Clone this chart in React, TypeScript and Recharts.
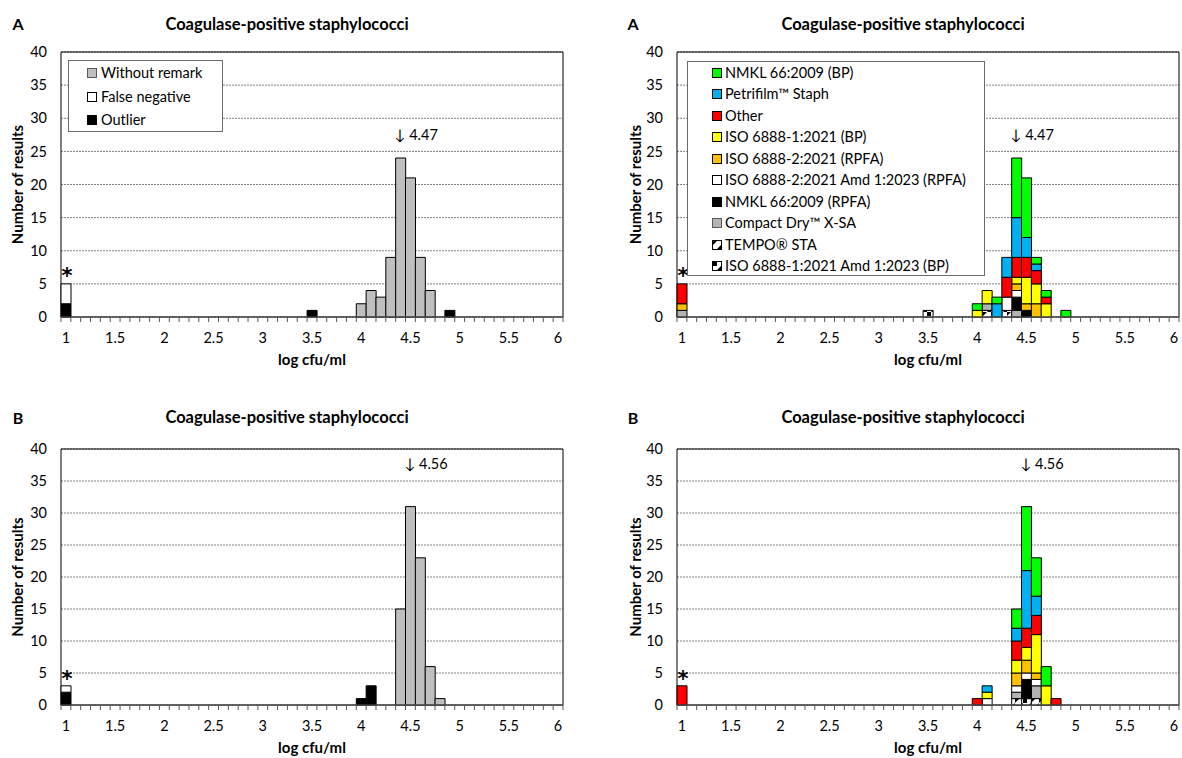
import React from "react";
import {
  BarChart,
  Bar,
  XAxis,
  YAxis,
  CartesianGrid,
  ReferenceArea,
  ReferenceDot,
  Legend,
} from "recharts";

const FONT = "Lato, 'Noto Sans', 'DejaVu Sans', sans-serif";

// ---------- categories & ticks ----------
const bins = [
  "1.0", "1.1", "1.2", "1.3", "1.4", "1.5", "1.6", "1.7", "1.8", "1.9",
  "2.0", "2.1", "2.2", "2.3", "2.4", "2.5", "2.6", "2.7", "2.8", "2.9",
  "3.0", "3.1", "3.2", "3.3", "3.4", "3.5", "3.6", "3.7", "3.8", "3.9",
  "4.0", "4.1", "4.2", "4.3", "4.4", "4.5", "4.6", "4.7", "4.8", "4.9",
  "5.0", "5.1", "5.2", "5.3", "5.4", "5.5", "5.6", "5.7", "5.8", "5.9",
  "6.0",
];
const xTickLabels = ["1", "1.5", "2", "2.5", "3", "3.5", "4", "4.5", "5", "5.5", "6"];
const yTicks = [0, 5, 10, 15, 20, 25, 30, 35, 40];

// ---------- Panel A : by remark ----------
const aOutlier: Record<string, number> = { "1.0": 2, "3.5": 1, "4.9": 1 };
const aFalseNegative: Record<string, number> = { "1.0": 3 };
const aWithoutRemark: Record<string, number> = {
  "4.0": 2, "4.1": 4, "4.2": 3, "4.3": 9, "4.4": 24, "4.5": 21, "4.6": 9, "4.7": 4,
};

// ---------- Panel B : by remark ----------
const bOutlier: Record<string, number> = { "1.0": 2, "4.0": 1, "4.1": 3 };
const bFalseNegative: Record<string, number> = { "1.0": 1 };
const bWithoutRemark: Record<string, number> = {
  "4.4": 15, "4.5": 31, "4.6": 23, "4.7": 6, "4.8": 1,
};

// ---------- Panel A : by method ----------
const aIso1AmdBp: Record<string, number> = { "3.5": 1 };
const aTempo: Record<string, number> = { "4.1": 1, "4.3": 1 };
const aCompactDry: Record<string, number> = { "1.0": 1, "4.1": 1, "4.4": 1 };
const aNmklRpfa: Record<string, number> = { "4.4": 2, "4.5": 1 };
const aIso2AmdRpfa: Record<string, number> = { "4.3": 2, "4.4": 1 };
const aIso2Rpfa: Record<string, number> = { "1.0": 1, "4.4": 1, "4.5": 1, "4.6": 2 };
const aIso1Bp: Record<string, number> = { "4.0": 1, "4.1": 2, "4.4": 1, "4.5": 4, "4.6": 3, "4.7": 2 };
const aOther: Record<string, number> = { "1.0": 3, "4.3": 3, "4.4": 3, "4.5": 3, "4.6": 2, "4.7": 1 };
const aPetrifilm: Record<string, number> = { "4.2": 2, "4.3": 3, "4.4": 6, "4.5": 3, "4.6": 1 };
const aNmklBp: Record<string, number> = { "4.0": 1, "4.2": 1, "4.4": 9, "4.5": 9, "4.6": 1, "4.7": 1, "4.9": 1 };

// ---------- Panel B : by method ----------
const bIso1AmdBp: Record<string, number> = { "4.5": 1 };
const bTempo: Record<string, number> = { "4.4": 1, "4.6": 1 };
const bCompactDry: Record<string, number> = { "4.4": 1, "4.6": 2 };
const bNmklRpfa: Record<string, number> = { "4.5": 3 };
const bIso2AmdRpfa: Record<string, number> = { "4.1": 1, "4.4": 1, "4.5": 1, "4.6": 1 };
const bIso2Rpfa: Record<string, number> = { "4.4": 2, "4.5": 2, "4.6": 1 };
const bIso1Bp: Record<string, number> = { "4.1": 1, "4.4": 2, "4.5": 2, "4.6": 6, "4.7": 3 };
const bOther: Record<string, number> = { "1.0": 3, "4.0": 1, "4.4": 3, "4.5": 3, "4.6": 3, "4.8": 1 };
const bPetrifilm: Record<string, number> = { "4.1": 1, "4.4": 2, "4.5": 9, "4.6": 3 };
const bNmklBp: Record<string, number> = { "4.4": 3, "4.5": 10, "4.6": 6, "4.7": 3 };

// ---------- series names (bottom of stack first) ----------
const remarkKeys = ["outlier", "falseNegative", "withoutRemark"];
const remarkNames = ["Outlier", "False negative", "Without remark"];
const methodKeys = [
  "iso1AmdBp", "tempo", "compactDry", "nmklRpfa", "iso2AmdRpfa",
  "iso2Rpfa", "iso1Bp", "other", "petrifilm", "nmklBp",
];
const methodNames = [
  "ISO 6888-1:2021 Amd 1:2023 (BP)",
  "TEMPO® STA",
  "Compact Dry™ X-SA",
  "NMKL 66:2009 (RPFA)",
  "ISO 6888-2:2021 Amd 1:2023 (RPFA)",
  "ISO 6888-2:2021 (RPFA)",
  "ISO 6888-1:2021 (BP)",
  "Other",
  "Petrifilm™ Staph",
  "NMKL 66:2009 (BP)",
];

const titleText = "Coagulase-positive staphylococci";
const yTitle = "Number of results";
const xTitle = "log cfu/ml";

// ---------- styles ----------
const remarkFills: Record<string, string> = {
  outlier: "#000000",
  falseNegative: "#ffffff",
  withoutRemark: "#bfbfbf",
};
const methodFills: Record<string, string> = {
  iso1AmdBp: "PAT_ISOAMD",
  tempo: "PAT_TEMPO",
  compactDry: "#b3b3b3",
  nmklRpfa: "#000000",
  iso2AmdRpfa: "#ffffff",
  iso2Rpfa: "#ffc000",
  iso1Bp: "#ffff00",
  other: "#ff0000",
  petrifilm: "#00b0f0",
  nmklBp: "#00ff00",
};

function buildRows(keys: string[], maps: Record<string, number>[]) {
  return bins.map((bin) => {
    const row: Record<string, any> = { bin };
    keys.forEach((k, i) => {
      row[k] = maps[i][bin] ?? 0;
    });
    return row;
  });
}

const rowsALeft = buildRows(remarkKeys, [aOutlier, aFalseNegative, aWithoutRemark]);
const rowsBLeft = buildRows(remarkKeys, [bOutlier, bFalseNegative, bWithoutRemark]);
const rowsARight = buildRows(methodKeys, [
  aIso1AmdBp, aTempo, aCompactDry, aNmklRpfa, aIso2AmdRpfa,
  aIso2Rpfa, aIso1Bp, aOther, aPetrifilm, aNmklBp,
]);
const rowsBRight = buildRows(methodKeys, [
  bIso1AmdBp, bTempo, bCompactDry, bNmklRpfa, bIso2AmdRpfa,
  bIso2Rpfa, bIso1Bp, bOther, bPetrifilm, bNmklBp,
]);

// ---------- geometry ----------
const CHART_W = 591;
const CHART_H = 379;
const PLOT_W = 502;
const XAXIS_H = 50;

function PatternTiles({ kind }: { kind: string }) {
  if (kind === "PAT_TEMPO") {
    return (
      <>
        <rect width="8" height="8" fill="#ffffff" />
        <path d="M0 0 L4 0 L0 4 Z" fill="#000" />
        <path d="M8 4 L8 8 L4 8 Z" fill="#000" />
      </>
    );
  }
  return (
    <>
      <rect width="8" height="8" fill="#ffffff" />
      <rect x="0" y="0" width="4" height="4" fill="#000" />
      <path d="M4 8 L8 4 L8 8 Z" fill="#000" />
    </>
  );
}

function Swatch({ fill, size }: { fill: string; size: number }) {
  const isPat = fill.startsWith("PAT_");
  return (
    <svg width={size} height={size} style={{ display: "block", flex: "none" }}>
      {isPat ? (
        <g>
          <rect x="0.5" y="0.5" width={size - 1} height={size - 1} fill="#fff" />
          {fill === "PAT_TEMPO" ? (
            <path d={`M1 1 L${size / 2} 1 L1 ${size / 2} Z M${size - 1} ${size / 2} L${size - 1} ${size - 1} L${size / 2} ${size - 1} Z`} fill="#000" />
          ) : (
            <path d={`M1 1 L${size / 2} 1 L${size / 2} ${size / 2} L1 ${size / 2} Z M${size / 2} ${size - 1} L${size - 1} ${size / 2} L${size - 1} ${size - 1} Z`} fill="#000" />
          )}
          <rect x="0.5" y="0.5" width={size - 1} height={size - 1} fill="none" stroke="#000" />
        </g>
      ) : (
        <rect x="0.5" y="0.5" width={size - 1} height={size - 1} fill={fill} stroke={fill === "#bfbfbf" || fill === "#b3b3b3" ? "#595959" : "#000"} />
      )}
    </svg>
  );
}

type LegendCfg = {
  left: number;
  top: number;
  w: number;
  h: number;
  firstY: number;
  step: number;
  swatchX: number;
  gap: number;
};

type PanelProps = {
  uid: string;
  x: number;
  y: number;
  plotLeft: number;
  plotTop: number;
  plotH: number;
  rows: Record<string, any>[];
  keys: string[];
  names: string[];
  fills: Record<string, string>;
  legend?: LegendCfg;
  meanBin: string;
  meanY: number;
  meanText: string;
  starY: number;
  yLabelX: number;
};

function Panel(p: PanelProps) {
  const bw = PLOT_W / bins.length;
  const margin = {
    top: p.plotTop,
    left: 0,
    right: CHART_W - p.plotLeft - PLOT_W,
    bottom: CHART_H - p.plotTop - p.plotH - XAXIS_H,
  };
  const fillOf = (k: string) => {
    const f = p.fills[k];
    return f.startsWith("PAT_") ? `url(#${p.uid}-${f})` : f;
  };

  const renderXTick = (tp: any) => {
    const { x, y, index } = tp;
    const isLast = index === bins.length - 1;
    return (
      <g>
        <line x1={x - bw / 2} x2={x - bw / 2} y1={y} y2={y + 5} stroke="#595959" />
        {isLast && <line x1={x + bw / 2} x2={x + bw / 2} y1={y} y2={y + 5} stroke="#595959" />}
        {index % 5 === 0 && (
          <text x={x} y={y + 26} textAnchor="middle" fontSize={14.5} fill="#000" fontFamily={FONT}>
            {xTickLabels[index / 5]}
          </text>
        )}
      </g>
    );
  };

  const legendItems = p.keys.map((k, i) => ({ key: k, name: p.names[i] })).reverse();
  const L = p.legend;

  const renderLegend = () =>
    L ? (
      <div
        style={{
          width: L.w,
          height: L.h,
          boxSizing: "border-box",
          border: "1px solid #6a6a6a",
          background: "#fff",
          position: "relative",
          fontFamily: FONT,
          fontSize: 14.5,
          color: "#000",
        }}
      >
        {legendItems.map((it, i) => (
          <div
            key={it.key}
            style={{
              position: "absolute",
              left: L.swatchX,
              top: L.firstY + i * L.step - 9,
              height: 18,
              display: "flex",
              alignItems: "center",
              whiteSpace: "nowrap",
            }}
          >
            <Swatch fill={p.fills[it.key]} size={10} />
            <span style={{ marginLeft: L.gap, lineHeight: "18px" }}>{it.name}</span>
          </div>
        ))}
      </div>
    ) : null;

  return (
    <div style={{ position: "absolute", left: p.x, top: p.y, width: CHART_W, height: CHART_H }}>
      <BarChart
        width={CHART_W}
        height={CHART_H}
        data={p.rows}
        margin={margin}
        barCategoryGap={0}
        barGap={0}
        style={{ fontFamily: FONT }}
      >
        <defs>
          <pattern id={`${p.uid}-PAT_TEMPO`} width="8" height="8" patternUnits="userSpaceOnUse">
            <PatternTiles kind="PAT_TEMPO" />
          </pattern>
          <pattern id={`${p.uid}-PAT_ISOAMD`} width="8" height="8" patternUnits="userSpaceOnUse">
            <PatternTiles kind="PAT_ISOAMD" />
          </pattern>
        </defs>
        <CartesianGrid vertical={false} stroke="#808080" strokeDasharray="2 1" />
        <XAxis
          dataKey="bin"
          type="category"
          interval={0}
          height={XAXIS_H}
          tickLine={false}
          tickSize={0}
          tickMargin={0}
          axisLine={{ stroke: "#595959" }}
          tick={renderXTick}
          label={{
            content: () => (
              <text
                x={p.plotLeft + PLOT_W / 2}
                y={p.plotTop + p.plotH + 48}
                textAnchor="middle"
                fontSize={15}
                fontWeight="bold"
                fill="#000"
                fontFamily={FONT}
              >
                {xTitle}
              </text>
            ),
          }}
        />
        <YAxis
          type="number"
          domain={[0, 40]}
          ticks={yTicks}
          interval={0}
          width={p.plotLeft}
          axisLine={false}
          tickLine={false}
          tickSize={0}
          tickMargin={14}
          tick={{ fill: "#000", fontSize: 14.5, fontFamily: FONT }}
          label={{
            content: () => (
              <text
                transform={`translate(${p.yLabelX}, ${p.plotTop + p.plotH / 2}) rotate(-90)`}
                textAnchor="middle"
                dominantBaseline="central"
                fontSize={15}
                fontWeight="bold"
                fill="#000"
                fontFamily={FONT}
              >
                {yTitle}
              </text>
            ),
          }}
        />
        {p.keys.map((k) => (
          <Bar
            key={k}
            dataKey={k}
            name={k}
            stackId="s"
            fill={fillOf(k)}
            stroke="#000"
            strokeWidth={1}
            isAnimationActive={false}
          />
        ))}
        <ReferenceArea y1={0} y2={40} fill="none" stroke="#000" strokeWidth={1} ifOverflow="visible" />
        <ReferenceDot
          x={p.meanBin}
          y={p.meanY}
          r={1}
          fill="none"
          stroke="none"
          ifOverflow="visible"
          label={{
            content: (lp: any) => {
              const vb = lp.viewBox || {};
              const cx = (vb.x ?? 0) + (vb.width ?? 0) / 2;
              const cy = (vb.y ?? 0) + (vb.height ?? 0) / 2;
              return (
                <text x={cx - 6} y={cy + 5} fontSize={14.5} fill="#000" fontFamily={FONT}>
                  {p.meanText}
                </text>
              );
            },
          }}
        />
        <ReferenceDot
          x="1.0"
          y={p.starY}
          r={1}
          fill="none"
          stroke="none"
          ifOverflow="visible"
          label={{
            content: (lp: any) => {
              const vb = lp.viewBox || {};
              const cx = (vb.x ?? 0) + (vb.width ?? 0) / 2;
              const cy = (vb.y ?? 0) + (vb.height ?? 0) / 2;
              return (
                <text x={cx + 1} y={cy + 12} textAnchor="middle" fontSize={21} fontWeight="bold" fill="#000" fontFamily="'DejaVu Sans', sans-serif">
                  *
                </text>
              );
            },
          }}
        />
        {L && (
          <Legend
            layout="horizontal"
            verticalAlign="middle"
            align="center"
            content={renderLegend}
            wrapperStyle={{ left: L.left, top: L.top, width: L.w, height: L.h }}
          />
        )}
      </BarChart>
    </div>
  );
}

const leftLegend: LegendCfg = { left: 68, top: 60, w: 155, h: 72, firstY: 12, step: 23.5, swatchX: 18, gap: 4 };
const rightLegend: LegendCfg = { left: 96, top: 61, w: 298, h: 215, firstY: 10.5, step: 21.5, swatchX: 24, gap: 3 };

function Caption({ x, y, text, size }: { x: number; y: number; text: string; size: number }) {
  return (
    <div
      style={{
        position: "absolute",
        left: x,
        top: y,
        transform: "translate(-50%, -50%)",
        fontFamily: FONT,
        fontWeight: "bold",
        fontSize: size,
        whiteSpace: "nowrap",
        color: "#000",
      }}
    >
      {text}
    </div>
  );
}

export default function App() {
  return (
    <div
      style={{
        position: "absolute",
        left: 0,
        top: 0,
        width: 1182,
        height: 758,
        background: "#fff",
        overflow: "hidden",
        fontFamily: FONT,
      }}
    >
      <Panel
        uid="al"
        x={0}
        y={0}
        plotLeft={61}
        plotTop={52}
        plotH={265}
        rows={rowsALeft}
        keys={remarkKeys}
        names={remarkNames}
        fills={remarkFills}
        legend={leftLegend}
        meanBin="4.4"
        meanY={27.4}
        meanText="↓ 4.47"
        starY={7}
        yLabelX={17}
      />
      <Panel
        uid="ar"
        x={591}
        y={0}
        plotLeft={86}
        plotTop={52}
        plotH={265}
        rows={rowsARight}
        keys={methodKeys}
        names={methodNames}
        fills={methodFills}
        legend={rightLegend}
        meanBin="4.4"
        meanY={27.4}
        meanText="↓ 4.47"
        starY={7}
        yLabelX={43.5}
      />
      <Panel
        uid="bl"
        x={0}
        y={379}
        plotLeft={61}
        plotTop={70}
        plotH={256}
        rows={rowsBLeft}
        keys={remarkKeys}
        names={remarkNames}
        fills={remarkFills}
        meanBin="4.5"
        meanY={37.6}
        meanText="↓ 4.56"
        starY={4.9}
        yLabelX={17}
      />
      <Panel
        uid="br"
        x={591}
        y={379}
        plotLeft={86}
        plotTop={70}
        plotH={256}
        rows={rowsBRight}
        keys={methodKeys}
        names={methodNames}
        fills={methodFills}
        meanBin="4.5"
        meanY={37.6}
        meanText="↓ 4.56"
        starY={4.9}
        yLabelX={43.5}
      />
      <Caption x={18} y={23} text="A" size={16} />
      <Caption x={287} y={24} text={titleText} size={16.5} />
      <Caption x={633} y={23} text="A" size={16} />
      <Caption x={903} y={24} text={titleText} size={16.5} />
      <Caption x={18} y={417} text="B" size={16} />
      <Caption x={287} y={417} text={titleText} size={16.5} />
      <Caption x={633} y={417} text="B" size={16} />
      <Caption x={903} y={417} text={titleText} size={16.5} />
    </div>
  );
}
